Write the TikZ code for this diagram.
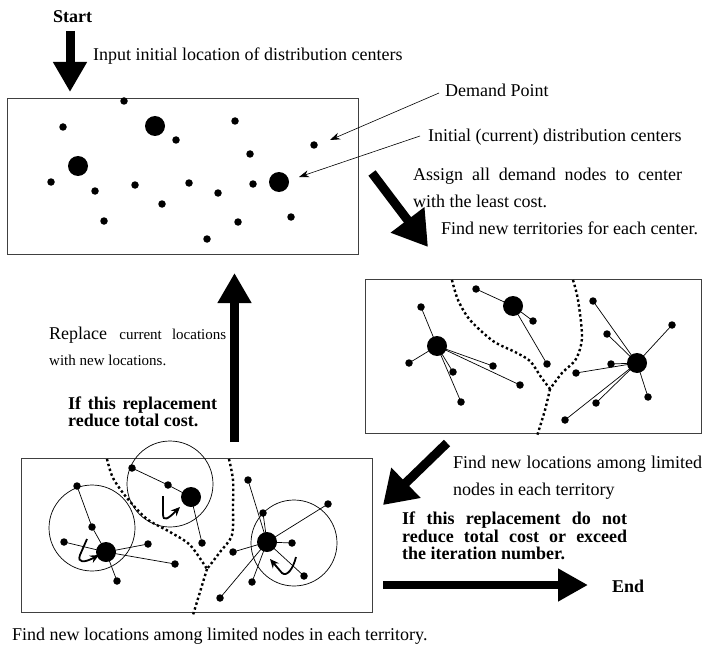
\documentclass[tikz,border=0pt]{standalone}
\usepackage{fontspec}
\setmainfont{Liberation Serif}
\usetikzlibrary{arrows.meta}
\begin{document}
\begin{tikzpicture}[x=1pt,y=-1pt,
 dot/.style={circle,fill=black,inner sep=0pt,minimum size=7.5pt},
 big/.style={circle,fill=black,inner sep=0pt,minimum size=20pt},
 box/.style={draw=black!75,line width=0.9pt},
 lnk/.style={line width=0.7pt},
 ring/.style={draw,circle,line width=0.7pt,inner sep=0pt,minimum size=86pt},
 bound/.style={line width=2.4pt,dash pattern=on 2.4pt off 2.6pt},
 fat/.style={line width=9pt,-{Triangle[length=30pt,width=32pt]}},
 lab/.style={anchor=base west,inner sep=0pt,font=\fontsize{18}{20}\selectfont},
 blab/.style={anchor=base west,inner sep=0pt,font=\fontsize{18}{20}\selectfont\bfseries},
 ann/.style={line width=0.6pt,-{Stealth[length=10pt,width=7pt]}},
 turn/.style={line width=1.8pt,-{Stealth[length=9pt,width=8pt]}},
]
\useasboundingbox (0,0) rectangle (703,647);

% ---------- top box ----------
\draw[box] (7,98) rectangle (358,254);
\node[dot] (t1) at (124,101) {};
\node[dot] (t2) at (63,127) {};
\node[big] (T1) at (155,126) {};
\node[dot] (t3) at (176,140) {};
\node[dot] (t4) at (235,121) {};
\node[dot] (t5) at (314,145) {};
\node[dot] (t6) at (250,154) {};
\node[big] (T2) at (78,166) {};
\node[dot] (t7) at (51,182) {};
\node[dot] (t8) at (95,191) {};
\node[dot] (t9) at (135,185) {};
\node[dot] (t10) at (189,183) {};
\node[dot] (t11) at (218,193) {};
\node[dot] (t12) at (253,184) {};
\node[big] (T3) at (279,182) {};
\node[dot] (t13) at (162,204) {};
\node[dot] (t14) at (104,221) {};
\node[dot] (t15) at (238,222) {};
\node[dot] (t16) at (291,217) {};
\node[dot] (t17) at (207,239) {};

\node[blab] (start) at (53,23) {Start};
\node[lab] (input) at (93,61) {Input initial location of distribution centers};
\node[lab] (dp) at (445,97) {Demand Point};
\node[lab] (idc) at (428,142) {Initial (current) distribution centers};
\coordinate (dpa) at (439,93);
\coordinate (idca) at (420,136);
\draw[ann] (dpa) -- (330,140);
\draw[ann] (idca) -- (299,177);

\coordinate (s0) at (70,31);
\coordinate (s1) at (70,92);
\draw[fat] (s0) -- (s1);

% ---------- diagonal arrow 1 ----------
\coordinate (d0) at (372,173);
\coordinate (d1) at (428,247);
\draw[line width=9pt,-{Triangle[length=34pt,width=40pt]}] (d0) -- (d1);
\node[lab] (asg) at (413,180) {\makebox[269pt][s]{Assign all demand nodes to center}};
\node[lab] (wlc) at (413,207) {with the least cost.};
\node[lab] (fnt) at (441,234) {Find new territories for each center.};

% ---------- middle box ----------
\draw[box] (365,279) rectangle (701.5,433);
\draw[bound] plot[smooth] coordinates {(452,280) (458,300) (470,320) (493,341) (515,352) (530,361) (541,377) (550,389)};
\draw[bound] plot[smooth] coordinates {(573,280) (578,300) (582,337) (576,359) (562,373) (550,389)};
\draw[bound] plot[smooth] coordinates {(550,389) (545,410) (537,436)};
\node[big] (M1) at (513,306) {};
\node[dot] (m1) at (476,289) {};
\node[dot] (m2) at (533,321) {};
\node[dot] (m3) at (547,364) {};
\node[big] (M2) at (437,346) {};
\node[dot] (m4) at (421,307) {};
\node[dot] (m5) at (409,363) {};
\node[dot] (m6) at (453,372) {};
\node[dot] (m7) at (493,366) {};
\node[dot] (m8) at (520,385) {};
\node[dot] (m9) at (461,402) {};
\node[big] (M3) at (637,363) {};
\node[dot] (m10) at (593,301) {};
\node[dot] (m11) at (607,334) {};
\node[dot] (m12) at (672,325) {};
\node[dot] (m13) at (611,364) {};
\node[dot] (m14) at (576,373) {};
\node[dot] (m15) at (648,397) {};
\node[dot] (m16) at (596,403) {};
\node[dot] (m17) at (565,420) {};
\foreach \a in {m1,m2,m3} \draw[lnk] (M1.center) -- (\a.center);
\foreach \a in {m4,m5,m6,m7,m8,m9} \draw[lnk] (M2.center) -- (\a.center);
\foreach \a in {m10,m11,m12,m13,m14,m15,m16,m17} \draw[lnk] (M3.center) -- (\a.center);

% ---------- up arrow and texts ----------
\coordinate (u0) at (234.5,442);
\coordinate (u1) at (234.5,273);
\draw[fat] (u0) -- (u1);
\node[lab] (rep) at (49,339) {\makebox[177pt][s]{Replace {\fontsize{15}{18}\selectfont current locations}}};
\node[lab,font=\fontsize{15}{18}\selectfont] (wnl) at (49,365) {with new locations.};
\node[blab] (if1) at (68,409) {\makebox[149pt][s]{If this replacement}};
\node[blab] (if2) at (68,426) {reduce total cost.};

% ---------- diagonal arrow 2 and texts ----------
\coordinate (e0) at (447,443);
\coordinate (e1) at (383,505);
\draw[line width=9pt,-{Triangle[length=32pt,width=40pt]}] (e0) -- (e1);
\node[lab] (fnl) at (453,468) {\makebox[249pt][s]{Find new locations among limited}};
\node[lab] (nit) at (453,495) {nodes in each territory};
\node[blab] (nr1) at (402,524) {\makebox[225pt][s]{If this replacement do not}};
\node[blab] (nr2) at (402,542) {\makebox[225pt][s]{reduce total cost or exceed}};
\node[blab] (nr3) at (402,559) {the iteration number.};
\coordinate (f0) at (383,585);
\coordinate (f1) at (588,585);
\draw[line width=8pt,-{Triangle[length=30pt,width=31pt]}] (f0) -- (f1);
\node[blab] (end) at (612,592) {End};

% ---------- bottom box ----------
\draw[box] (21,458) rectangle (372,612);
\node[ring] (C1) at (92,528) {};
\node[ring] (C2) at (170,484) {};
\node[ring] (C3) at (294,543) {};
\draw[bound] plot[smooth] coordinates {(107,459) (113,478) (127,498) (147,519) (170,532) (190,545) (207,569)};
\draw[bound] plot[smooth] coordinates {(229,459) (233,480) (233,505) (232,535) (220,552) (207,569)};
\draw[bound] plot[smooth] coordinates {(207,569) (200,592) (193,615)};
\node[big] (B1) at (106,552) {};
\node[dot] (b1) at (77,486) {};
\node[dot] (b2) at (92,527) {};
\node[dot] (b3) at (64,542) {};
\node[dot] (b4) at (148,544) {};
\node[dot] (b5) at (175,564) {};
\node[dot] (b6) at (117,581) {};
\node[big] (B2) at (191,497) {};
\node[dot] (b7) at (132,468) {};
\node[dot] (b8) at (168,485) {};
\node[dot] (b9) at (202,543) {};
\node[big] (B3) at (267,542) {};
\node[dot] (b10) at (248,480) {};
\node[dot] (b11) at (263,513) {};
\node[dot] (b12) at (328,504) {};
\node[dot] (b13) at (292,543) {};
\node[dot] (b14) at (233,552) {};
\node[dot] (b15) at (252,582) {};
\node[dot] (b16) at (304,576) {};
\node[dot] (b17) at (220,598) {};
\draw[lnk] (b1.center) -- (b2.center) -- (B1.center);
\foreach \a in {b3,b4,b5,b6} \draw[lnk] (B1.center) -- (\a.center);
\draw[lnk] (b7.center) -- (b8.center) -- (B2.center) -- (b9.center);
\foreach \a in {b10,b11,b12,b13,b14,b15,b16,b17} \draw[lnk] (B3.center) -- (\a.center);
\draw[turn] (87,539) -- (80,555) .. controls (77,563) and (84,563) .. (99,555);
\draw[turn] (163,496) -- (163,514) .. controls (163,522) and (168,519) .. (180,507);
\draw[turn] (296,557) .. controls (293,569) and (287,577) .. (282,573) -- (270,559);

\node[lab] (bot) at (12,640) {Find new locations among limited nodes in each territory.};
\end{tikzpicture}
\end{document}
